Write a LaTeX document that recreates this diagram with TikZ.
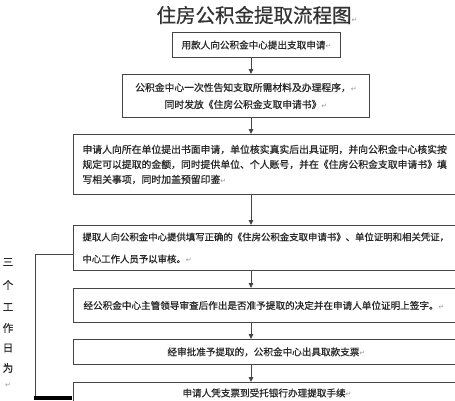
\documentclass[tikz,border=0pt]{standalone}
\usepackage{fontspec}
\setmainfont{Noto Sans CJK SC}
\newfontfamily\boxf[FakeBold=0.6]{Noto Sans CJK SC}
\newfontfamily\symf{DejaVu Sans}
\usetikzlibrary{arrows.meta}
\definecolor{txt}{HTML}{262626}
\definecolor{ttl}{HTML}{333333}
\definecolor{edge}{HTML}{454545}
\definecolor{pmark}{HTML}{9A9A9A}
\newcommand{\parmark}{{\symf\color{pmark}\scriptsize ↵}}
\begin{document}
\begin{tikzpicture}[x=1pt,y=-1pt,
  box/.style={draw=edge,line width=0.9pt,rectangle,inner sep=0pt,text=txt,font=\boxf\fontsize{9.6}{15}\selectfont},
  arr/.style={draw=edge,line width=0.9pt,-{Triangle[length=5pt,width=4.5pt]}},
  vtext/.style={text=txt,font=\boxf\fontsize{10.5}{10}\selectfont,inner sep=0pt}]
\useasboundingbox[fill=white] (0,0) rectangle (455,400);
\coordinate (ax) at (251,0);
% title
\node[text=ttl,font=\boxf\fontsize{19.5}{20}\selectfont,inner sep=0pt] (title) at (257,15) {住房公积金提取流程图\parmark};
% boxes
\node[box,minimum width=168pt,minimum height=25pt,anchor=north west] (b1) at (172,32) {用款人向公积金中心提出支取申请\parmark};
\node[box,minimum width=247pt,minimum height=43pt,anchor=north west,align=center,font=\boxf\fontsize{9.8}{17}\selectfont] (b2) at (122,74) {公积金中心一次性告知支取所需材料及办理程序，\parmark\\同时发放《住房公积金支取申请书》\parmark};
\node[box,minimum width=389pt,minimum height=60pt,anchor=north west,text width=371pt,inner xsep=9pt,align=left,font=\boxf\fontsize{9.85}{15}\selectfont] (b3) at (73,134) {申请人向所在单位提出书面申请，单位核实真实后出具证明，并向公积金中心核实按\\规定可以提取的金额，同时提供单位、个人账号，并在《住房公积金支取申请书》填\\写相关事项，同时加盖预留印鉴\parmark\\[-3pt]};
\node[box,minimum width=389pt,minimum height=45pt,anchor=north west,text width=371pt,inner xsep=9pt,align=left,font=\boxf\fontsize{9.4}{22}\selectfont] (b4) at (73,225) {提取人向公积金中心提供填写正确的《住房公积金支取申请书》、单位证明和相关凭证，\\中心工作人员予以审核。\parmark};
\node[box,minimum width=389pt,minimum height=34pt,anchor=north west,text width=371pt,inner xsep=10pt,align=left] (b5) at (73,288) {经公积金中心主管领导审查后作出是否准予提取的决定并在申请人单位证明上签字。\parmark};
\node[box,minimum width=389pt,minimum height=25pt,anchor=north west,text width=371pt,inner xsep=9pt,align=left] (b6) at (73,339) {\hspace*{85pt}经审批准予提取的，公积金中心出具取款支票\parmark};
\node[box,minimum width=389pt,minimum height=21pt,anchor=north west,text width=371pt,inner xsep=9pt,align=left] (b7) at (73,382) {\hspace*{100pt}申请人凭支票到受托银行办理提取手续\parmark};
% arrows
\draw[arr] (b1.south -| ax) -- (b2.north -| ax);
\draw[arr] (b2.south -| ax) -- (b3.north -| ax);
\draw[arr] (b3.south -| ax) -- (b4.north -| ax);
\draw[arr] (b4.south -| ax) -- (b5.north -| ax);
\draw[arr] (b5.south -| ax) -- (b6.north -| ax);
\draw[arr] (b6.south -| ax) -- (b7.north -| ax);
% left bracket
\coordinate (lt) at (35,254);
\coordinate (lb) at (35,400);
\draw[draw=edge,line width=0.9pt] (b4.west |- lt) -- (lt) -- (lb);
\fill[black] (34,396) rectangle (72,400);
% vertical label
\node[vtext] (v1) at (8,262) {三};
\node[vtext] (v2) at (8,285) {个};
\node[vtext] (v3) at (8,307) {工};
\node[vtext] (v4) at (8,328) {作};
\node[vtext] (v5) at (8,348) {日};
\node[vtext] (v6) at (8,368) {为};
\node[inner sep=0pt] (v7) at (8,385) {\parmark};
\end{tikzpicture}
\end{document}
